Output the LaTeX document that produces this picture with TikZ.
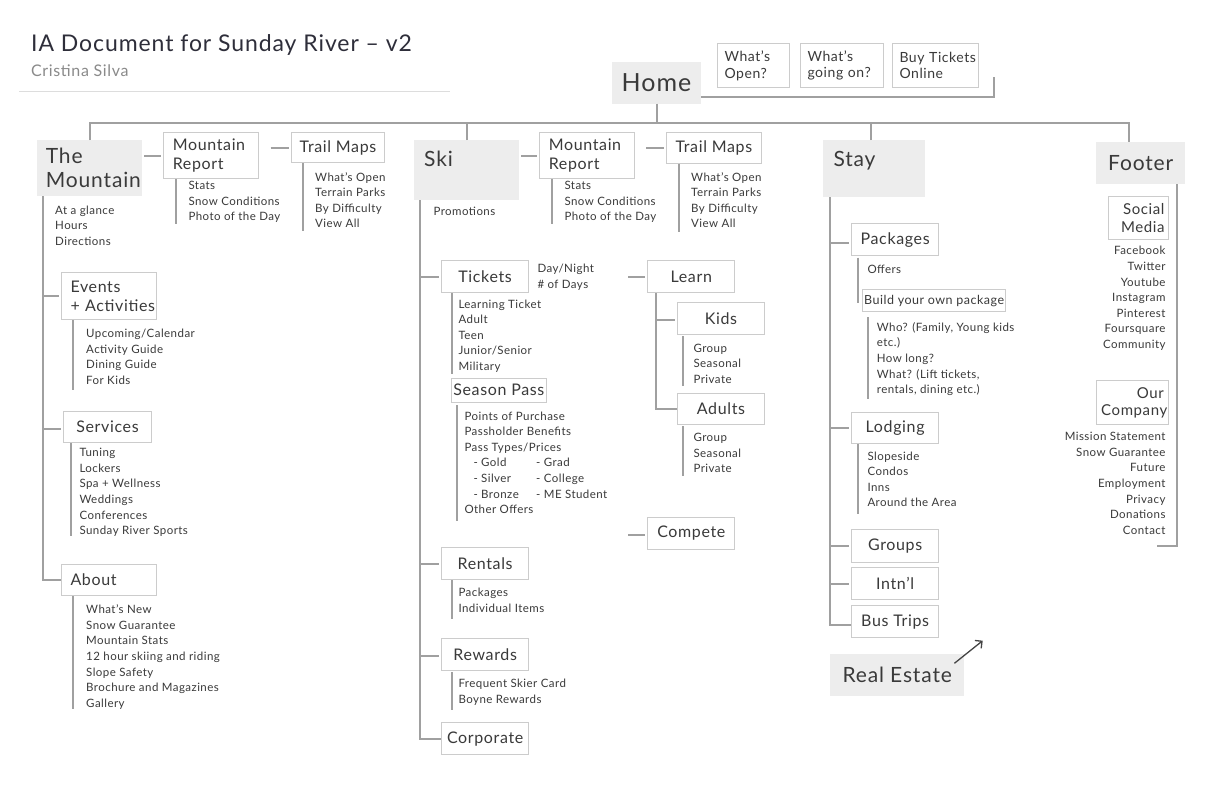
\documentclass[tikz,border=0pt]{standalone}
\usepackage{fontspec}
\setmainfont{Lato}[LetterSpace=4]
\usetikzlibrary{calc,arrows.meta}
\definecolor{txt}{HTML}{3A3A3A}
\definecolor{ttl}{HTML}{2E2E3A}
\definecolor{subc}{HTML}{8A8A8A}
\definecolor{rulec}{HTML}{DDDDDD}
\definecolor{gfill}{HTML}{EDEDED}
\definecolor{boxc}{HTML}{CCCCCC}
\definecolor{lc}{HTML}{A0A0A0}
\definecolor{arrowc}{HTML}{444444}
\newcommand\myfs[2]{\fontsize{#1}{#2}\selectfont}
\hyphenpenalty=10000
\exhyphenpenalty=10000
\begin{document}
\begin{tikzpicture}[x=1pt,y=-1pt,
 gbox/.style={fill=gfill,inner sep=0pt,anchor=north west,font=\myfs{21}{24.3},text=txt},
 wbox/.style={draw=boxc,line width=1pt,inner sep=0pt,anchor=north west,font=\myfs{16}{19},text=txt},
 sbox/.style={wbox,font=\myfs{14}{16.7}},
 lst/.style={anchor=north west,inner sep=0pt,align=left,font=\myfs{11.5}{15.6},text=txt},
 lstr/.style={lst,anchor=north east,align=right},
 conn/.style={draw=lc,line width=2pt},
 br/.style={conn,shorten >=2pt},
]
\fill[white] (0,0) rectangle (1224,792);
\useasboundingbox (0,0) rectangle (1224,792);

% title
\node[anchor=base west,inner sep=0pt,font=\myfs{23}{27},text=ttl] (title) at (31,51.7) {IA Document for Sunday River – v2};
\node[anchor=base west,inner sep=0pt,font=\myfs{16}{19},text=subc] (author) at (31,76.7) {Cristina Silva};
\draw[rulec,line width=1pt] (19,91.7) -- (450,91.7);

% home
\node[gbox,font=\myfs{25}{30},minimum width=89.3,minimum height=41] (home) at (611.7,62.3) {Home};
\node[sbox,minimum height=44,text width=58,inner xsep=7,align=left] (wopen) at (717,43) {What’s\\Open?};
\node[sbox,minimum height=44,text width=69,inner xsep=7,align=left] (wgoing) at (800,43) {What’s\\\mbox{going on?}};
\node[sbox,minimum height=44,text width=72,inner xsep=7,align=left] (wbuy) at (892,43) {\mbox{Buy Tickets}\\Online};
\coordinate (hEnd) at (994,77);
\draw[conn] ($(home.east)+(0,14.2)$) -| (hEnd);

% level-1 boxes
\node[gbox,minimum height=56,text width=87,inner xsep=9,align=left] (mtn) at (36.7,140) {The\\Mountain};
\node[gbox,text width=85,inner xsep=10,text height=26,text depth=34,align=left] (ski) at (414,140) {Ski};
\node[gbox,text width=81,inner xsep=10.6,text height=26.5,text depth=30.2,align=left] (stay) at (822.7,140) {Stay};
\node[gbox,minimum width=89,minimum height=42.3] (footer) at (1096,141.7) {Footer};

% main bar
\coordinate (barL) at (90,123.3);
\coordinate (barR) at (1129.3,123.3);
\draw[conn] (home.south) -- (home.south |- barL);
\draw[conn] (mtn.north -| barL) -- (barL) -- (barR) -- (footer.north -| barR);
\draw[conn] (ski.north) -- (ski.north |- barL);
\coordinate (stayTop) at ($(stay.north)+(-3,0)$);
\draw[conn] (stayTop) -- (stayTop |- barL);

% ---------- The Mountain ----------
\node[wbox,minimum height=46.6,text width=76.4,inner xsep=9,align=left] (mr1) at (163.3,131.7) {Mountain\\Report};
\node[wbox,minimum width=93.6,minimum height=30.6] (tm1) at (290.7,131.7) {\mbox{Trail Maps}};
\draw[conn,shorten <=2pt,shorten >=2pt] (mr1.west -| mtn.east) -- (mr1.west);
\draw[br] ($(tm1.west)+(-20,0)$) -- (tm1.west);
\draw[conn] ($(mr1.south west)+(12.7,0)$) -- ++(0,45);
\node[lst] (mr1l) at (188.3,181.2) {Stats\\Snow Conditions\\Photo of the Day};
\draw[conn] ($(tm1.south west)+(12,0)$) -- ++(0,68);
\node[lst] (tm1l) at (315,172.2) {What’s Open\\Terrain Parks\\By Difficulty\\View All};
\node[lst] (mtnl) at (55,205.5) {At a glance\\Hours\\Directions};

\node[wbox,minimum height=47,text width=76.7,inner xsep=9,align=left] (events) at (61,272.3) {Events\\\mbox{+ Activities}};
\node[wbox,minimum width=87.4,minimum height=31.6] (services) at (63.3,410.7) {Services};
\node[wbox,minimum height=30.7,text width=76.7,inner xsep=9,align=left] (about) at (61,564.3) {About};
\coordinate (mS) at ($(mtn.south west)+(6,0)$);
\draw[conn] (mS) |- (about.west);
\draw[br] (events.west -| mS) -- (events.west);
\draw[br] ($(services.west -| mS)+(0,2)$) -- ($(services.west)+(0,2)$);
\draw[conn] ($(events.south west)+(12.3,0)$) -- ++(0,70);
\node[lst] (eventsl) at (86,328.8) {Upcoming/Calendar\\Activity Guide\\Dining Guide\\For Kids};
\draw[conn] ($(services.south west)+(7.7,0)$) -- ++(0,93);
\node[lst] (servicesl) at (79.3,448.2) {Tuning\\Lockers\\Spa + Wellness\\Weddings\\Conferences\\Sunday River Sports};
\draw[conn] ($(about.south west)+(12.3,0)$) -- ++(0,113.3);
\node[lst] (aboutl) at (86,604.8) {What’s New\\Snow Guarantee\\Mountain Stats\\12 hour skiing and riding\\Slope Safety\\Brochure and Magazines\\Gallery};

% ---------- Ski ----------
\node[wbox,minimum height=46.6,text width=76.7,inner xsep=9,align=left] (mr2) at (539.3,131.7) {Mountain\\Report};
\node[wbox,minimum width=94.7,minimum height=31] (tm2) at (666,131.7) {\mbox{Trail Maps}};
\draw[conn,shorten <=2pt,shorten >=2pt] (mr2.west -| ski.east) -- (mr2.west);
\draw[br] ($(tm2.west)+(-20,0)$) -- (tm2.west);
\draw[conn] ($(mr2.south west)+(12.4,0)$) -- ++(0,45);
\node[lst] (mr2l) at (564.3,181.2) {Stats\\Snow Conditions\\Photo of the Day};
\draw[conn] ($(tm2.south west)+(13,0)$) -- ++(0,68);
\node[lst] (tm2l) at (691,172.2) {What’s Open\\Terrain Parks\\By Difficulty\\View All};
\node[lst] (promo) at (433.3,207.2) {Promotions};

\node[wbox,minimum width=87.3,minimum height=32.3] (tickets) at (441,260) {Tickets};
\node[wbox,minimum width=87.3,minimum height=32] (rentals) at (441,547.3) {Rentals};
\node[wbox,minimum width=87.3,minimum height=31.7] (rewards) at (441,638.3) {Rewards};
\node[wbox,minimum width=87.3,minimum height=31.7] (corp) at (441,722.3) {Corporate};
\coordinate (sS) at ($(ski.south west)+(6,0)$);
\draw[conn] (sS) |- (corp.west);
\draw[br] (tickets.west -| sS) -- (tickets.west);
\draw[br] (rentals.west -| sS) -- (rentals.west);
\draw[br] ($(rewards.west -| sS)+(0,1.5)$) -- ($(rewards.west)+(0,1.5)$);

\node[lst] (tnote) at (537.3,263.8) {Day/Night\\\# of Days};
\draw[conn] ($(tickets.south west)+(10.7,0)$) -- ++(0,81);
\node[lst] (ticketsl) at (458.3,299.5) {Learning Ticket\\Adult\\Teen\\Junior/Senior\\Military};
\node[wbox,minimum width=94.7,minimum height=24] (season) at (451,377.7) {\mbox{Season Pass}};
\draw[conn] ($(season.south west)+(6.3,2.3)$) -- ++(0,116);
\node[lst] (seasonl) at (464.3,411.5) {Points of Purchase\\Passholder Benefits\\Pass Types/Prices\\\hspace*{9pt}\makebox[62.7pt][l]{- Gold}- Grad\\\hspace*{9pt}\makebox[62.7pt][l]{- Silver}- College\\\hspace*{9pt}\makebox[62.7pt][l]{- Bronze}- ME Student\\Other Offers};

\node[wbox,minimum width=87,minimum height=32.3] (learn) at (647.3,260) {Learn};
\draw[br] ($(learn.west)+(-19,0)$) -- (learn.west);
\node[wbox,minimum width=87.6,minimum height=31.7] (kids) at (676.7,302.3) {Kids};
\node[wbox,minimum width=87.6,minimum height=31.3] (adults) at (676.7,392.7) {Adults};
\coordinate (lS) at ($(learn.south west)+(8.7,0)$);
\draw[conn] (lS) |- (adults.west);
\draw[br] ($(kids.west -| lS)+(0,1.5)$) -- ($(kids.west)+(0,1.5)$);
\draw[conn] ($(kids.south west)+(6.6,1)$) -- ++(0,50);
\node[lst] (kidsl) at (693.3,343.8) {Group\\Seasonal\\Private};
\draw[conn] ($(adults.south west)+(6.6,1)$) -- ++(0,50);
\node[lst] (adultsl) at (693.3,433.2) {Group\\Seasonal\\Private};
\node[wbox,minimum width=87,minimum height=32.6] (compete) at (647.3,516.7) {Compete};
\draw[br] ($(compete.west)+(-19,1)$) -- ($(compete.west)+(0,1)$);

\draw[conn] ($(rentals.south west)+(10.7,0)$) -- ++(0,39);
\node[lst] (rentalsl) at (458.3,588.2) {Packages\\Individual Items};
\draw[conn] ($(rewards.south west)+(10.7,1)$) -- ++(0,38.3);
\node[lst] (rewardsl) at (458.3,678.8) {Frequent Skier Card\\Boyne Rewards};

% ---------- Stay ----------
\node[wbox,minimum width=87.3,minimum height=31.7] (packages) at (851,223.3) {Packages};
\node[wbox,minimum width=87.3,minimum height=31] (lodging) at (851,411.7) {Lodging};
\node[wbox,minimum width=87.3,minimum height=32.4] (groups) at (851,529.3) {Groups};
\node[wbox,minimum width=87.3,minimum height=32] (intl) at (851,567.3) {Intn’l};
\node[wbox,minimum width=87.3,minimum height=32] (bus) at (851,605.3) {\mbox{Bus Trips}};
\coordinate (yS) at ($(stay.south west)+(7.3,0)$);
\draw[conn] (yS) |- ($(bus.west)+(0,3)$);
\draw[br] ($(packages.west -| yS)+(0,3)$) -- ($(packages.west)+(0,3)$);
\draw[br] (lodging.west -| yS) -- (lodging.west);
\draw[br] (groups.west -| yS) -- (groups.west);
\draw[br] (intl.west -| yS) -- (intl.west);

\draw[conn] ($(packages.south west)+(6.7,1.7)$) -- ++(0,45);
\node[lst] (offers) at (867.3,264.8) {Offers};
\node[wbox,font=\myfs{12.5}{15},minimum width=142.7,minimum height=21.7] (build) at (862.3,289.3) {Build your own package};
\draw[conn] ($(build.south west)+(6,5)$) -- ++(0,82.3);
\node[lst] (buildl) at (876.7,322.2) {Who? (Family, Young kids\\etc.)\\How long?\\What? (Lift tickets,\\rentals, dining etc.)};
\draw[conn] ($(lodging.south west)+(6.7,0.6)$) -- ++(0,69.4);
\node[lst] (lodgingl) at (867.3,451.5) {Slopeside\\Condos\\Inns\\Around the Area};

\node[gbox,minimum width=134,minimum height=41.7] (re) at (830,654) {\mbox{Real Estate}};
\coordinate (reTo) at (982.7,640.7);
\draw[draw=arrowc,line width=1.3pt,-{Straight Barb[length=5pt,width=10pt]}] ($(re.north east)+(-10,9.3)$) -- (reTo);

% ---------- Footer ----------
\coordinate (fEnd) at (1157,546);
\draw[conn] ($(footer.south east)+(-8.3,0)$) |- (fEnd);
\node[wbox,font=\myfs{15}{17.3},minimum height=43.3,text width=51.4,inner xsep=4.3,align=right] (social) at (1108.3,196) {Social\\Media};
\node[lstr] (sociall) at (1165.7,246.2) {Facebook\\Twitter\\Youtube\\Instagram\\Pinterest\\Foursquare\\Community};
\node[wbox,font=\myfs{15}{17.3},minimum height=44.3,text width=62.6,inner xsep=5,align=right] (company) at (1095.7,380) {Our\\Company};
\node[lstr] (companyl) at (1165.7,432.2) {Mission Statement\\Snow Guarantee\\Future\\Employment\\Privacy\\Donations\\Contact};
\end{tikzpicture}
\end{document}
